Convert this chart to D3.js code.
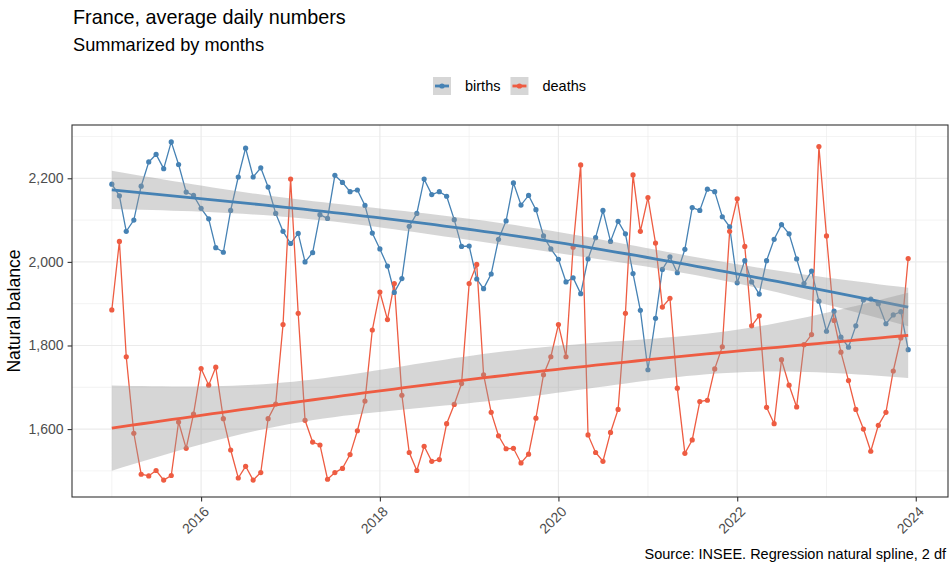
<!DOCTYPE html>
<html>
<head>
<meta charset="utf-8">
<script src="https://cdn.jsdelivr.net/npm/d3@7"></script>
<style>
  body { margin: 0; background: #fff; }
  text { font-family: "Liberation Sans", Arial, sans-serif; }
</style>
</head>
<body>
<svg id="chart" width="952" height="570"></svg>
<script>
// Monthly average daily numbers, Jan 2015 - Dec 2023
const firstMonth = new Date(2015, 0, 1);
const lastMonth = new Date(2023, 11, 1);

const births = [
    2186, 2158, 2073, 2100, 2181, 2239, 2257, 2223, 2287, 2233, 2167, 2159,
    2128, 2103, 2034, 2023, 2123, 2203, 2272, 2203, 2225, 2179, 2116, 2073,
    2044, 2068, 2000, 2022, 2113, 2104, 2207, 2190, 2168, 2172, 2135, 2069,
    2031, 1990, 1927, 1960, 2085, 2116, 2198, 2161, 2168, 2157, 2101, 2037,
    2038, 1959, 1936, 1971, 2054, 2098, 2189, 2136, 2159, 2125, 2062, 2031,
    2006, 1952, 1962, 1924, 2007, 2058, 2123, 2049, 2097, 2067, 1972, 1884,
    1742, 1865, 1982, 2012, 1974, 2030, 2130, 2123, 2174, 2168, 2108, 2084,
    1950, 2003, 1952, 1923, 2003, 2054, 2089, 2067, 2007, 1948, 1978, 1906,
    1834, 1882, 1820, 1796, 1847, 1909, 1911, 1900, 1852, 1873, 1881, 1790
];

const deaths = [
    1885, 2049, 1773, 1590, 1492, 1488, 1501, 1478, 1489, 1617, 1554, 1636,
    1745, 1705, 1748, 1625, 1550, 1483, 1511, 1478, 1496, 1625, 1660, 1850,
    2198, 1877, 1621, 1569, 1562, 1480, 1496, 1506, 1539, 1596, 1667, 1837,
    1928, 1862, 1948, 1681, 1544, 1501, 1559, 1523, 1527, 1613, 1659, 1709,
    1948, 1994, 1730, 1640, 1584, 1553, 1554, 1519, 1540, 1626, 1730, 1773,
    1850, 1773, 2035, 2232, 1586, 1544, 1523, 1592, 1647, 1877, 2208, 2073,
    2154, 2045, 1892, 1913, 1698, 1542, 1574, 1666, 1669, 1744, 1797, 2073,
    2151, 2037, 1847, 1871, 1652, 1613, 1766, 1705, 1653, 1802, 1826, 2276,
    2062, 1860, 1784, 1716, 1647, 1600, 1547, 1609, 1640, 1739, 1818, 2008
];

const seriesNames = ["births", "deaths"];
const seriesColors = ["#4682B4", "#EE5C42"];
const yTicks = [1600, 1800, 2000, 2200];
const yMinorTicks = [1500, 1700, 1900, 2100, 2300];
const xTickYears = [2016, 2018, 2020, 2022, 2024];
const xMinorYears = [2015, 2017, 2019, 2021, 2023];

const months = d3.timeMonth.range(firstMonth, d3.timeMonth.offset(lastMonth, 1));

// Regression y ~ ns(x, 2): natural cubic spline, knots at min, median, max
function fitSpline(values) {
    const n = values.length;
    const xs = months.map(d => (d - months[0]) / (365.25 * 864e5));
    const a = xs[0], b = xs[n - 1], k = d3.median(xs);
    const basis = x => [1, x, Math.pow(x - a, 3) / (b - a) - Math.pow(Math.max(0, x - k), 3) / (b - k)];
    const X = xs.map(basis);
    const XtX = [[0, 0, 0], [0, 0, 0], [0, 0, 0]];
    const Xty = [0, 0, 0];
    X.forEach((row, i) => {
        for (let r = 0; r < 3; r++) {
            Xty[r] += row[r] * values[i];
            for (let c = 0; c < 3; c++) XtX[r][c] += row[r] * row[c];
        }
    });
    const inv = invert3(XtX);
    const beta = inv.map(row => row[0] * Xty[0] + row[1] * Xty[1] + row[2] * Xty[2]);
    const pred = row => row[0] * beta[0] + row[1] * beta[1] + row[2] * beta[2];
    const rss = d3.sum(X, (row, i) => Math.pow(values[i] - pred(row), 2));
    const s2 = rss / (n - 3);
    const tq = 1.98282; // qt(0.975, 105)

    const t0 = +months[0], t1 = +months[n - 1];
    return d3.range(80).map(j => {
        const date = new Date(t0 + (t1 - t0) * j / 79);
        const row = basis(a + (b - a) * j / 79);
        const fit = pred(row);
        let q = 0;
        for (let r = 0; r < 3; r++)
            for (let c = 0; c < 3; c++) q += row[r] * inv[r][c] * row[c];
        const se = Math.sqrt(s2 * q);
        return { date, fit, lo: fit - tq * se, hi: fit + tq * se };
    });
}

function invert3(m) {
    const [[a, b, c], [d, e, f], [g, h, i]] = m;
    const A = e * i - f * h, B = -(d * i - f * g), C = d * h - e * g;
    const det = a * A + b * B + c * C;
    return [
        [A / det, -(b * i - c * h) / det, (b * f - c * e) / det],
        [B / det, (a * i - c * g) / det, -(a * f - c * d) / det],
        [C / det, -(a * h - b * g) / det, (a * e - b * d) / det]
    ];
}

const series = [births, deaths].map((vals, s) => ({
    name: seriesNames[s],
    color: seriesColors[s],
    points: vals.map((v, i) => ({ date: months[i], value: v })),
    smooth: fitSpline(vals)
}));

const svg = d3.select("#chart");
const width = 952;
const height = 570;
const margin = { top: 125, right: 4, bottom: 73, left: 72 };
const innerWidth = width - margin.left - margin.right;
const innerHeight = height - margin.top - margin.bottom;

// ggplot-like 5% expansion
const span = +lastMonth - +firstMonth;
const xScale = d3.scaleTime()
    .domain([new Date(+firstMonth - span * 0.05), new Date(+lastMonth + span * 0.05)])
    .range([0, innerWidth]);

const allY = series.flatMap(s => s.points.map(p => p.value).concat(s.smooth.flatMap(d => [d.lo, d.hi])));
const yMin = d3.min(allY), yMax = d3.max(allY);
const yScale = d3.scaleLinear()
    .domain([yMin - (yMax - yMin) * 0.05, yMax + (yMax - yMin) * 0.05])
    .range([innerHeight, 0]);

const g = svg.append("g")
    .attr("transform", `translate(${margin.left},${margin.top})`);

// Grid
g.selectAll(".yminor").data(yMinorTicks).enter().append("line")
    .attr("x1", 0).attr("x2", innerWidth)
    .attr("y1", d => yScale(d)).attr("y2", d => yScale(d))
    .attr("stroke", "#ebebeb").attr("stroke-width", 0.6);
g.selectAll(".xminor").data(xMinorYears).enter().append("line")
    .attr("y1", 0).attr("y2", innerHeight)
    .attr("x1", d => xScale(new Date(d, 0, 1))).attr("x2", d => xScale(new Date(d, 0, 1)))
    .attr("stroke", "#ebebeb").attr("stroke-width", 0.6);
g.selectAll(".ymajor").data(yTicks).enter().append("line")
    .attr("x1", 0).attr("x2", innerWidth)
    .attr("y1", d => yScale(d)).attr("y2", d => yScale(d))
    .attr("stroke", "#ebebeb").attr("stroke-width", 1.2);
g.selectAll(".xmajor").data(xTickYears).enter().append("line")
    .attr("y1", 0).attr("y2", innerHeight)
    .attr("x1", d => xScale(new Date(d, 0, 1))).attr("x2", d => xScale(new Date(d, 0, 1)))
    .attr("stroke", "#ebebeb").attr("stroke-width", 1.2);

// Data lines and points
const line = d3.line().x(d => xScale(d.date)).y(d => yScale(d.value));
series.forEach(s => {
    g.append("path")
        .datum(s.points)
        .attr("d", line)
        .attr("fill", "none")
        .attr("stroke", s.color)
        .attr("stroke-width", 1.3);
});
series.forEach(s => {
    g.selectAll(null).data(s.points).enter().append("circle")
        .attr("cx", d => xScale(d.date))
        .attr("cy", d => yScale(d.value))
        .attr("r", 2.6)
        .attr("fill", s.color);
});

// Smooth: band + fitted line
const band = d3.area().x(d => xScale(d.date)).y0(d => yScale(d.lo)).y1(d => yScale(d.hi));
const fitLine = d3.line().x(d => xScale(d.date)).y(d => yScale(d.fit));
series.forEach(s => {
    g.append("path").datum(s.smooth).attr("d", band)
        .attr("fill", "#999999").attr("fill-opacity", 0.4);
    g.append("path").datum(s.smooth).attr("d", fitLine)
        .attr("fill", "none").attr("stroke", s.color).attr("stroke-width", 2.8);
});

// Panel border
g.append("rect")
    .attr("width", innerWidth).attr("height", innerHeight)
    .attr("fill", "none").attr("stroke", "#333333").attr("stroke-width", 1.1);

// Axes
const yAxis = g.append("g")
    .call(d3.axisLeft(yScale).tickValues(yTicks).tickFormat(d3.format(",")).tickSize(4.4).tickPadding(4));
const xAxis = g.append("g")
    .attr("transform", `translate(0,${innerHeight})`)
    .call(d3.axisBottom(xScale).tickValues(xTickYears.map(y => new Date(y, 0, 1))).tickFormat(d3.timeFormat("%Y")).tickSize(4.4));
[xAxis, yAxis].forEach(ax => {
    ax.select(".domain").remove();
    ax.selectAll("line").attr("stroke", "#333333").attr("stroke-width", 1.1);
    ax.selectAll("text").attr("fill", "#4d4d4d").attr("font-size", "14px")
        .style("font-family", "'Liberation Sans', Arial, sans-serif");
});
xAxis.selectAll("text")
    .attr("y", 0).attr("dy", "0.35em")
    .attr("text-anchor", "end")
    .attr("transform", "translate(5,12) rotate(-45)");

// Y title
svg.append("text")
    .attr("transform", `translate(20,${margin.top + innerHeight / 2}) rotate(-90)`)
    .attr("text-anchor", "middle")
    .attr("font-size", "17.6px")
    .attr("fill", "#000")
    .text("Natural balance");

// Title, subtitle, caption
svg.append("text").attr("x", 73).attr("y", 24)
    .attr("font-size", "19.8px").attr("fill", "#000")
    .text("France, average daily numbers");
svg.append("text").attr("x", 73).attr("y", 51)
    .attr("font-size", "18.2px").attr("fill", "#000")
    .text("Summarized by months");
svg.append("text").attr("x", 946).attr("y", 559)
    .attr("text-anchor", "end")
    .attr("font-size", "14.5px").attr("fill", "#000")
    .text("Source: INSEE. Regression natural spline, 2 df");

// Legend
const legend = svg.append("g").attr("transform", "translate(433,77)");
let lx = 0;
series.forEach(s => {
    const item = legend.append("g").attr("transform", `translate(${lx},0)`);
    item.append("rect").attr("width", 18).attr("height", 18).attr("fill", "#d6d6d6");
    item.append("line").attr("x1", 2).attr("x2", 16).attr("y1", 9).attr("y2", 9)
        .attr("stroke", s.color).attr("stroke-width", 2.8);
    item.append("circle").attr("cx", 9).attr("cy", 9).attr("r", 2.6).attr("fill", s.color);
    const t = item.append("text").attr("x", 32).attr("y", 14)
        .attr("font-size", "14.5px").attr("fill", "#000").text(s.name);
    lx += 32 + t.node().getComputedTextLength() + 10;
});
</script>
</body>
</html>
